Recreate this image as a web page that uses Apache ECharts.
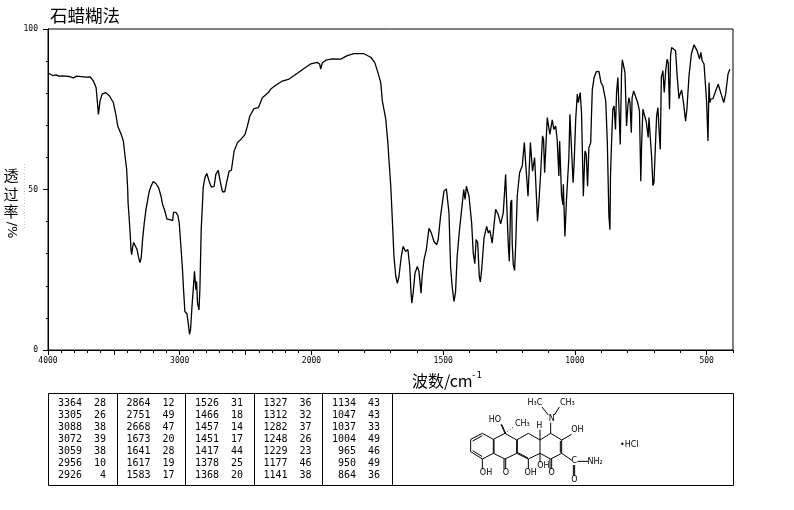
<!DOCTYPE html>
<html><head><meta charset="utf-8">
<style>html,body{margin:0;padding:0;background:#fff}#c{width:794px;height:510px}</style>
<script src="https://cdn.jsdelivr.net/npm/echarts@6/dist/echarts.min.js"></script>
</head><body><div id="c"></div>
<script>
const wavenumbers = [3996,3989,3964,3938,3918,3888,3837,3807,3782,3711,3680,3655,3635,3627,3617,3605,3589,3564,3534,3504,3483,3471,3445,3428,3415,3403,3395,3392,3383,3375,3370,3365,3358,3350,3337,3324,3312,3302,3292,3282,3269,3256,3239,3231,3218,3201,3180,3160,3142,3130,3112,3097,3074,3054,3047,3029,3014,3004,2991,2979,2971,2961,2945,2935,2926,2918,2907,2895,2888,2880,2877,2872,2865,2854,2847,2837,2827,2822,2809,2794,2777,2759,2739,2726,2708,2693,2676,2658,2642,2625,2608,2587,2562,2536,2504,2486,2468,2436,2403,2373,2327,2309,2271,2221,2170,2107,2057,2006,1978,1969,1965,1959,1946,1921,1889,1864,1839,1801,1775,1760,1748,1737,1731,1718,1710,1706,1699,1693,1687,1680,1674,1668,1659,1652,1643,1634,1627,1622,1619,1614,1607,1598,1592,1584,1580,1573,1564,1554,1545,1535,1525,1519,1510,1497,1488,1478,1472,1466,1459,1453,1447,1438,1428,1422,1417,1412,1402,1392,1386,1380,1375,1369,1363,1359,1354,1345,1335,1329,1323,1314,1301,1291,1282,1272,1263,1258,1253,1249,1244,1240,1238,1234,1229,1225,1219,1210,1200,1192,1187,1178,1169,1165,1161,1153,1149,1142,1137,1130,1123,1119,1115,1109,1105,1099,1095,1086,1080,1073,1067,1061,1058,1054,1051,1046,1044,1038,1032,1023,1019,1014,1007,1003,997,991,987,980,975,968,962,957,952,947,940,938,934,927,919,909,901,894,883,877,871,867,865,861,856,851,846,842,837,832,828,823,820,817,810,804,799,795,791,786,783,777,770,762,755,750,747,742,737,729,722,719,714,709,704,700,696,690,685,680,676,672,666,661,655,650,646,641,637,633,629,618,612,605,603,595,588,580,575,567,558,548,536,527,522,517,510,500,495,491,488,485,476,466,456,445,435,428,419,412,405];
const transmittance = [86.2,85.7,85.5,85.7,85.3,85.4,85.2,84.8,85.3,85.0,85.1,83.8,81.8,78.1,73.4,77.6,79.7,80.2,79.2,77.1,72.9,69.8,67.2,65.1,60.4,56.3,50,45.8,40.6,35.4,31.3,29.7,31.9,33.5,33.3,31.3,28.8,27.2,28.8,34.4,39.7,43.8,47.8,49.5,51,52.5,51.8,50.5,47.9,45.3,43.2,40.8,40.6,40.3,42.9,42.9,41.9,39.6,32.3,25,18.8,12,11.3,8.3,4.9,6.3,13.5,20.3,24.5,25,18.8,21.3,14.7,12.5,18.8,37.5,45.9,50.6,53.7,55,52.6,50.7,51,54.7,56,52.6,49.3,49.3,52.6,55.7,56,62,64.6,65.6,67.2,69.8,72.9,75.2,75.5,78.6,80.2,81.3,82.5,83.8,84.4,86.2,87.7,89.1,89.6,89.1,87.5,89.4,90.3,90.7,90.6,91.7,92.3,92.3,91.2,89.6,86.5,83.3,77.6,71.9,64.6,59.4,51,40.6,29.2,22.9,20.8,22.9,29.2,32.3,30.7,31.3,26,17.7,14.6,17.7,24,26,24.5,17.7,22.9,28.1,31.3,37.9,36.5,33.8,32.8,34.4,41.7,49.5,50.2,42.7,26,19.8,15.1,18.2,29.2,37.5,45.3,50,46.9,51,47.9,39.6,30.2,26.9,34.4,33.4,22.9,21.2,25,34.9,38.5,36.5,37.3,33.3,43.8,42.2,39.3,42.7,54.7,54.2,32.8,27.6,45.8,46.7,33.3,26.6,24.8,32.3,47.9,55.2,57.3,64.6,58.3,47.9,64.6,64.6,55.7,59.9,53,40.1,45.8,55.2,66.7,65.6,55.2,65.6,72.4,71.9,67.2,71.7,68.7,69.8,65.1,54.2,65.1,64.6,48.4,45.3,51.6,35.4,46.9,59.9,73.4,72.9,52.1,58.3,71.9,79.7,77.1,80.2,74,47.9,62,60.9,51,63,64.6,70.8,81.2,84.9,86.7,86.8,83.3,82.3,77.6,64.6,41.7,37.5,54.2,64.6,75,76,68.7,80.2,84.9,84.4,64,86.5,90.4,90.4,86.5,69.8,76,78.6,77.1,67.7,78.6,80.7,81,77.1,74.5,52.6,63.5,75,75,71,66.2,72.4,66.2,60.4,51.2,52.1,60.4,72.9,75.5,67.7,62.5,84.9,87,80.2,87.5,90.6,89.6,75,91.7,94.2,94.2,93.2,85.4,78.3,79.2,81,77.1,71.3,75,85.4,92.2,95.1,93.2,90.6,92.7,90.1,89.1,77.1,65.1,83.3,77.1,78.1,78.3,80.7,82.8,79.7,77.1,79.7,85.9,87.5];

const xTickLabels = [4000,3000,2000,1500,1000,500];
const xMajorTicks = [4000,3500,3000,2500,2000,1500,1000,500];
const xMinorTicks = [3900,3800,3700,3600,3400,3300,3200,3100,2900,2800,2700,2600,2400,2300,2200,2100,1900,1800,1700,1600,1400,1300,1200,1100,900,800,700,600,400];
const yTickLabels = [0,50,100];
const yMinorTicks = [0,10,20,30,40,50,60,70,80,90,100];

const peakWave1 = [3364,3305,3088,3072,3059,2956,2926];
const peakT1 = [28,26,38,39,38,10,4];
const peakWave2 = [2864,2751,2668,1673,1641,1617,1583];
const peakT2 = [12,49,47,20,28,19,17];
const peakWave3 = [1526,1466,1457,1451,1417,1378,1368];
const peakT3 = [31,18,14,17,44,25,20];
const peakWave4 = [1327,1312,1282,1248,1229,1177,1141];
const peakT4 = [36,32,37,26,23,46,38];
const peakWave5 = [1134,1047,1037,1004,965,950,864];
const peakT5 = [43,43,33,49,46,49,36];
const peakColumns = [[peakWave1,peakT1],[peakWave2,peakT2],[peakWave3,peakT3],[peakWave4,peakT4],[peakWave5,peakT5]];

// The wavenumber axis changes scale at 2000 cm-1: below it, 1 cm-1 takes twice the width.
const toAxis = w => w >= 2000 ? (4000 - w) / 2 : 1000 + (2000 - w);

const MONO = '"DejaVu Sans Mono", monospace';
const CJK = '"Noto Sans CJK SC", sans-serif';
const g = [];
const text = (t, x, y, font, align, extra) => g.push(Object.assign({type:'text', x, y, silent:true,
  style:{text:t, font, fill:'#000', textAlign:align||'left', textVerticalAlign:'middle'}}, extra||{}));
const line = (x1,y1,x2,y2,w,c,dash) => g.push({type:'line', silent:true,
  shape:{x1,y1,x2,y2}, style:{stroke:c||'#000', lineWidth:w||1, lineDash:dash||null}});

text('石蜡糊法', 50, 15, '17.5px '+CJK);
text('透', 11, 175, '15px '+CJK, 'center');
text('过', 11, 194, '15px '+CJK, 'center');
text('率', 11, 211, '15px '+CJK, 'center');
text('/%', 11, 230, '13px "DejaVu Sans"', 'center', {rotation:-Math.PI/2, originX:0, originY:0});
line(24.5,164,24.5,229,1,'#c8c8c8',[1,2]);
text('波数/cm', 412, 381, '16px '+CJK);
text('-1', 471, 376, '9px '+MONO);

// Peak table
const tx = [48.5,117.5,185.5,254.5,322.5,392.5,733.5];
g.push({type:'rect', silent:true, shape:{x:48.5,y:393.5,width:685,height:92}, style:{fill:'none',stroke:'#000',lineWidth:1}});
tx.slice(1,6).forEach(x => line(x,393.5,x,485.5));
const rowY = [403,415,427,439,451,463,475.5];
peakColumns.forEach((col,i) => {
  col[0].forEach((w,r) => {
    text(String(w), 82+i*68.5, rowY[r], '10px '+MONO, 'right');
    text(String(col[1][r]), 106+i*68.5, rowY[r], '10px '+MONO, 'right');
  });
});

// Structure
const sx = v => 440 + v/3, sy = v => 385 + v/3;
const bonds = [[92,163,127,145],[98,168,127,152],[127,145,160,163],[160,163,160,205],[162,163,162,205],[160,205,127,222],[127,222,92,200],[127,215,98,197],[92,200,92,163],
 [160,163,195,145],[195,145,230,165],[230,165,230,205],[232,165,232,205],[230,205,195,222],[195,222,160,205],
 [230,165,265,145],[265,145,300,165],[300,165,300,205],[300,205,265,222],[265,222,230,205],[264,219,232,202],
 [300,165,332,145],[332,145,365,165],[365,165,365,205],[361,168,361,203],[365,205,332,222],[332,222,300,205],
 [127,222,127,252],[192,222,192,252],[197,222,197,252],[265,222,265,252],[300,205,300,232],[330,222,330,252],[335,222,335,252],
 [365,205,396,226],[412,229,445,229],[400,240,400,272],[404,240,404,272],[365,165,395,148],[332,145,332,113],[325,90,306,66],[343,90,358,66],[300,165,300,134],
 [195,145,183,118],[197,145,185,118]];
bonds.forEach(b => line(sx(b[0]),sy(b[1]),sx(b[2]),sy(b[3])));
line(sx(195),sy(145),sx(222),sy(125),1,'#000',[1,2]);
const atoms = [['H₃C',285,55],['CH₃',382,53],['N',335,101],['HO',165,106],['CH₃',247,118],['H',298,122],['OH',412,136],['OH',138,263],['O',198,263],['OH',272,263],['OH',310,243],['O',335,263],['C',403,229],['NH₂',465,231],['O',403,284]];
atoms.forEach(a => text(a[0], sx(a[1]), sy(a[2]), '8px "DejaVu Sans"', 'center'));
text('•HCl', sx(568), sy(179), '8px "DejaVu Sans"', 'center');

const chart = echarts.init(document.getElementById('c'), null, {renderer:'canvas'});
chart.setOption({
  animation:false,
  backgroundColor:'#fff',
  grid:{left:48,top:29,width:685,height:321,show:true,borderColor:'#000',borderWidth:1,backgroundColor:'transparent'},
  xAxis:[
    {type:'value',min:0,max:2600,position:'bottom',splitLine:{show:false},
     axisLine:{show:true,lineStyle:{color:'#000'}},
     axisTick:{show:true,length:5,lineStyle:{color:'#000'},customValues:xMajorTicks.map(toAxis)},
     axisLabel:{show:true,margin:7,color:'#000',fontFamily:'DejaVu Sans Mono',fontSize:8,
       customValues:xTickLabels.map(toAxis),
       formatter:v=>String(xTickLabels[xTickLabels.map(toAxis).indexOf(v)])}},
    {type:'value',min:0,max:2600,position:'bottom',splitLine:{show:false},
     axisLine:{show:false},
     axisTick:{show:true,length:3,lineStyle:{color:'#000'},customValues:xMinorTicks.map(toAxis)},
     axisLabel:{show:false}}
  ],
  yAxis:[
    {type:'value',min:0,max:100,position:'left',splitLine:{show:false},
     axisLine:{show:true,lineStyle:{color:'#000'}},
     axisTick:{show:true,length:5,lineStyle:{color:'#000'},customValues:yTickLabels},
     axisLabel:{show:true,margin:10,color:'#000',fontFamily:'DejaVu Sans Mono',fontSize:8,customValues:yTickLabels}},
    {type:'value',min:0,max:100,position:'left',splitLine:{show:false},
     axisLine:{show:false},
     axisTick:{show:true,length:2,lineStyle:{color:'#000'},customValues:yMinorTicks},
     axisLabel:{show:false}}
  ],
  series:[{type:'line',showSymbol:false,symbol:'none',silent:true,clip:true,
    lineStyle:{color:'#000',width:1.3},
    data:wavenumbers.map((w,i)=>[toAxis(w),transmittance[i]])}],
  graphic:g
});
</script></body></html>
